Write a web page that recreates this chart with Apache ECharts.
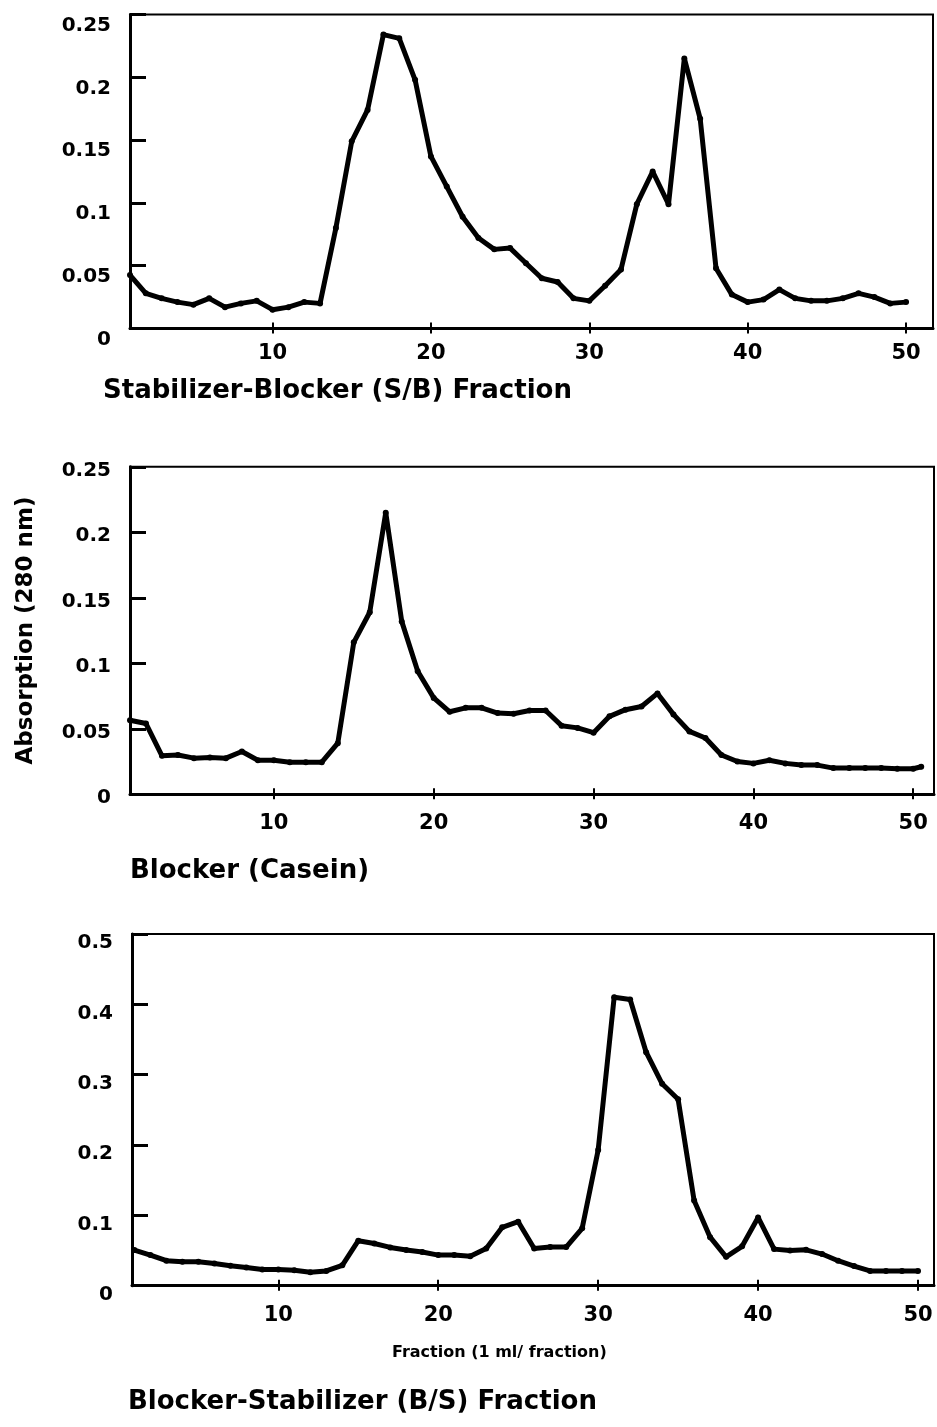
<!DOCTYPE html>
<html>
<head>
<meta charset="utf-8">
<script src="https://cdn.jsdelivr.net/npm/echarts@6/dist/echarts.min.js"></script>
<style>
html,body{margin:0;padding:0;background:#fff;}
#chart{width:937px;height:1427px;}
</style>
</head>
<body>
<div id="chart"></div>
<script>
// ---- data ----
var fractionsSB = [1,2,3,4,5,6,7,8,9,10,11,12,13,14,15,16,17,18,19,20,21,22,23,24,25,26,27,28,29,30,31,32,33,34,35,36,37,38,39,40,41,42,43,44,45,46,47,48,49,50];
var absorbSB = [0.0425,0.028,0.024,0.021,0.019,0.024,0.017,0.020,0.022,0.015,0.017,0.021,0.020,0.080,0.149,0.174,0.234,0.231,0.198,0.137,0.113,0.089,0.072,0.063,0.064,0.052,0.040,0.037,0.024,0.022,0.034,0.047,0.099,0.125,0.099,0.215,0.167,0.048,0.027,0.021,0.023,0.031,0.024,0.022,0.022,0.024,0.028,0.025,0.020,0.021];

var fractionsCasein = [1,2,3,4,5,6,7,8,9,10,11,12,13,14,15,16,17,18,19,20,21,22,23,24,25,26,27,28,29,30,31,32,33,34,35,36,37,38,39,40,41,42,43,44,45,46,47,48,49,50,50.5];
var absorbCasein = [0.0565,0.054,0.0294,0.030,0.0276,0.028,0.0276,0.0327,0.026,0.026,0.0245,0.0245,0.0245,0.039,0.116,0.139,0.215,0.132,0.094,0.0736,0.063,0.066,0.066,0.062,0.0615,0.064,0.064,0.0524,0.0507,0.047,0.0595,0.0646,0.067,0.077,0.061,0.048,0.043,0.030,0.025,0.0236,0.026,0.0236,0.0223,0.0223,0.020,0.020,0.020,0.020,0.0195,0.0195,0.021];

var fractionsBS = [1,2,3,4,5,6,7,8,9,10,11,12,13,14,15,16,17,18,19,20,21,22,23,24,25,26,27,28,29,30,31,32,33,34,35,36,37,38,39,40,41,42,43,44,45,46,47,48,49,50];
var absorbBS = [0.0507,0.0435,0.0355,0.034,0.034,0.0317,0.0284,0.026,0.023,0.023,0.022,0.019,0.021,0.029,0.064,0.060,0.0544,0.0507,0.048,0.0435,0.0435,0.042,0.053,0.083,0.091,0.053,0.055,0.055,0.0815,0.193,0.410,0.407,0.332,0.287,0.265,0.121,0.069,0.041,0.056,0.097,0.052,0.050,0.051,0.045,0.0355,0.028,0.021,0.021,0.021,0.021];

var xTickValues = [10,20,30,40,50];
var yTicksSmall = [0,0.05,0.1,0.15,0.2,0.25];
var yTicksLarge = [0,0.1,0.2,0.3,0.4,0.5];

var titles = ['Stabilizer-Blocker (S/B) Fraction','Blocker (Casein)','Blocker-Stabilizer (B/S) Fraction'];
var yAxisTitle = 'Absorption (280 nm)';
var xAxisTitle = 'Fraction (1 ml/ fraction)';

function pairs(xs, ys){ return xs.map(function(x,i){ return [x, ys[i]]; }); }

var FONT = '"DejaVu Sans", Arial, sans-serif';

var gridBase = {show:true, borderColor:'#000', borderWidth:2, backgroundColor:'#fff', containLabel:false, outerBoundsMode:'none'};
var grids = [
  Object.assign({left:130, top:14.5, width:803, height:314}, gridBase),
  Object.assign({left:130, top:466.8, width:804, height:327.5}, gridBase),
  Object.assign({left:132, top:934, width:802, height:351.7}, gridBase)
];
var xRanges = [[1,51.7],[1,51.3],[0.85,51]];
var yRanges = [[0,0.25,yTicksSmall],[0,0.25,yTicksSmall],[0,0.5,yTicksLarge]];
var yLabelLineHeight = [22,7,18];
var xLabelMargin = [15,19,19];

var xAxes = [], yAxes = [], series = [];
for (var g=0; g<3; g++){
  xAxes.push({
    type:'value', gridIndex:g, min:xRanges[g][0], max:xRanges[g][1], position:'bottom',
    axisLine:{show:true, onZero:false, lineStyle:{color:'#000', width:3}},
    axisTick:{show:true, inside:true, length:6, customValues:xTickValues, lineStyle:{color:'#000', width:2}},
    axisLabel:{show:true, customValues:xTickValues, margin:xLabelMargin[g], color:'#000', fontFamily:FONT, fontWeight:'bold', fontSize:21},
    splitLine:{show:false}
  });
  xAxes.push({
    type:'value', gridIndex:g, min:xRanges[g][0], max:xRanges[g][1], position:'top',
    axisLine:{show:false},
    axisTick:{show:true, inside:true, length:5, customValues:xTickValues, lineStyle:{color:'#000', width:2}},
    axisLabel:{show:false},
    splitLine:{show:false}
  });
  var yA = {
    type:'value', gridIndex:g, min:yRanges[g][0], max:yRanges[g][1],
    axisLine:{show:true, onZero:false, lineStyle:{color:'#000', width:3}},
    axisTick:{show:true, inside:true, length:16, customValues:yRanges[g][2], lineStyle:{color:'#000', width:3}},
    axisLabel:{show:true, customValues:yRanges[g][2], margin:19, color:'#000', fontFamily:FONT, fontWeight:'bold', fontSize:20,
      verticalAlign:'middle', lineHeight:yLabelLineHeight[g],
      formatter:function(v){ return '\n' + String(+(+v).toFixed(3)); }},
    splitLine:{show:false}
  };
  if (g===1){
    yA.name = yAxisTitle;
    yA.nameLocation = 'middle';
    yA.nameRotate = 90;
    yA.nameGap = 92;
    yA.nameTextStyle = {color:'#000', fontFamily:FONT, fontWeight:'bold', fontSize:23};
  }
  yAxes.push(yA);
}

var dataSets = [pairs(fractionsSB, absorbSB), pairs(fractionsCasein, absorbCasein), pairs(fractionsBS, absorbBS)];
for (var s=0; s<3; s++){
  series.push({
    type:'line', xAxisIndex:s*2, yAxisIndex:s, data:dataSets[s],
    symbol:'circle', symbolSize:6, showSymbol:true,
    itemStyle:{color:'#000'},
    lineStyle:{color:'#000', width:5, join:'round'},
    animation:false, silent:true
  });
}

var titleStyle = {color:'#000', fontFamily:FONT, fontWeight:'bold', fontSize:26};
var option = {
  backgroundColor:'#fff',
  animation:false,
  title:[
    {text:titles[0], left:103, top:378, padding:0, textStyle:titleStyle},
    {text:titles[1], left:130, top:858, padding:0, textStyle:titleStyle},
    {text:titles[2], left:128, top:1389, padding:0, textStyle:titleStyle},
    {text:xAxisTitle, left:392, top:1345, padding:0, textStyle:{color:'#000', fontFamily:FONT, fontWeight:'bold', fontSize:16}}
  ],
  grid:grids,
  xAxis:xAxes,
  yAxis:yAxes,
  series:series
};

var chart = echarts.init(document.getElementById('chart'), null, {renderer:'canvas'});
chart.setOption(option);
</script>
</body>
</html>
